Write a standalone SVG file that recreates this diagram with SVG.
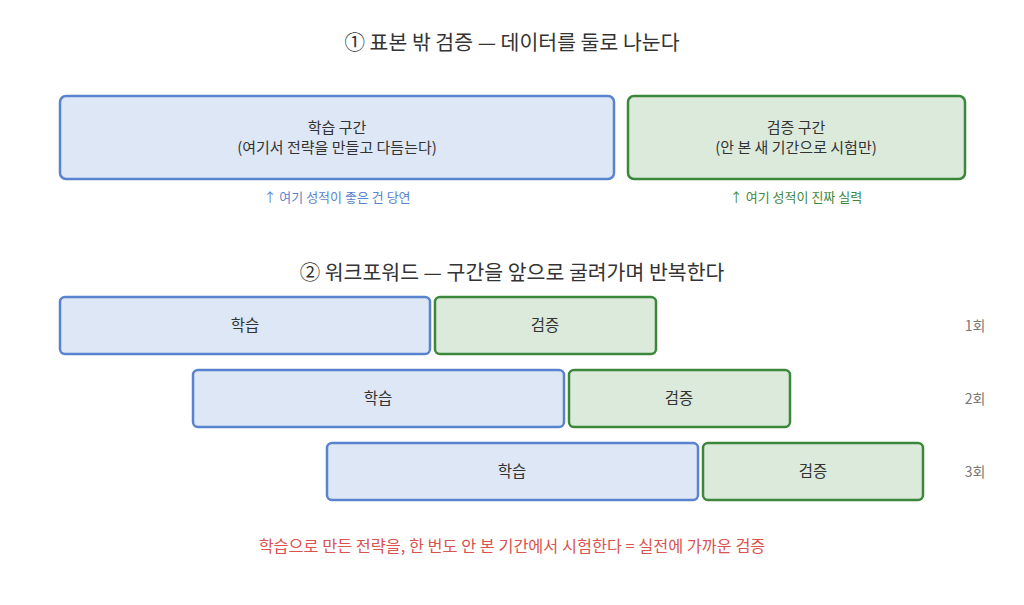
<svg xmlns="http://www.w3.org/2000/svg" width="1024" height="605" viewBox="0 0 1024 605">
<style>
text{font-family:"Noto Sans CJK KR","Noto Sans",sans-serif;text-anchor:middle;fill:#333}
.title{font-size:20.5px}
.lbl{font-size:15.5px}
.sub{font-size:15px}
.note{font-size:13px}
.train{fill:#dde7f6;stroke:#5a83cf;stroke-width:2.5}
.test{fill:#dbeadb;stroke:#3b873b;stroke-width:2.5}
.cnt{font-size:14px;fill:#777}
</style>
<rect width="1024" height="605" fill="#ffffff"/>
<text class="title" x="512" y="50">① 표본 밖 검증 — 데이터를 둘로 나눈다</text>
<g id="train-main">
<rect class="train" x="60" y="96" width="554" height="83" rx="6"/>
<text class="sub" x="337" y="133">학습 구간</text>
<text class="sub" x="337" y="153">(여기서 전략을 만들고 다듬는다)</text>
</g>
<g id="test-main">
<rect class="test" x="628" y="96" width="337" height="83" rx="6"/>
<text class="sub" x="796" y="133">검증 구간</text>
<text class="sub" x="796" y="153">(안 본 새 기간으로 시험만)</text>
</g>
<text class="note" x="337" y="202" style="fill:#5a83cf">↑ 여기 성적이 좋은 건 당연</text>
<text class="note" x="796" y="202" style="fill:#3b873b">↑ 여기 성적이 진짜 실력</text>
<text class="title" x="512" y="280">② 워크포워드 — 구간을 앞으로 굴려가며 반복한다</text>
<g id="row1">
<rect class="train" x="60" y="297" width="370" height="57" rx="5"/>
<text class="lbl" x="245" y="331">학습</text>
<rect class="test" x="435" y="297" width="221" height="57" rx="5"/>
<text class="lbl" x="545" y="331">검증</text>
<text class="cnt" x="975" y="331">1회</text>
</g>
<g id="row2">
<rect class="train" x="193" y="370" width="371" height="57" rx="5"/>
<text class="lbl" x="378" y="404">학습</text>
<rect class="test" x="569" y="370" width="221" height="57" rx="5"/>
<text class="lbl" x="679" y="404">검증</text>
<text class="cnt" x="975" y="404">2회</text>
</g>
<g id="row3">
<rect class="train" x="327" y="443" width="371" height="57" rx="5"/>
<text class="lbl" x="512" y="477">학습</text>
<rect class="test" x="703" y="443" width="220" height="57" rx="5"/>
<text class="lbl" x="813" y="477">검증</text>
<text class="cnt" x="975" y="477">3회</text>
</g>
<g id="connectors"></g>
<text class="lbl" x="512" y="552" style="fill:#d9534f;font-size:16.3px">학습으로 만든 전략을, 한 번도 안 본 기간에서 시험한다 = 실전에 가까운 검증</text>
</svg>
